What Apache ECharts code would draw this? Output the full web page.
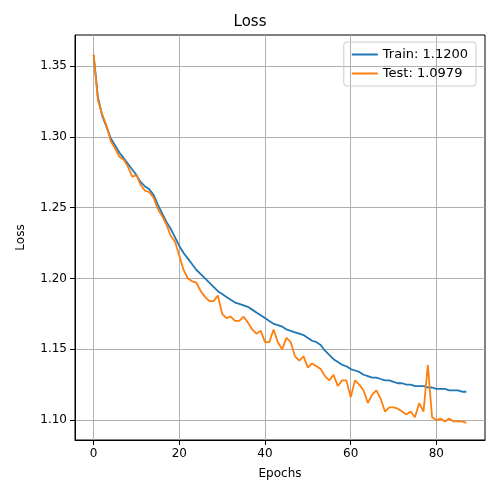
<!DOCTYPE html>
<html><head><meta charset="utf-8">
<script src="https://cdn.jsdelivr.net/npm/echarts@6/dist/echarts.min.js"></script>
<style>body{margin:0}#c{width:500px;height:500px}</style></head>
<body><div id="c"></div>
<script>
const train = [1.358,1.328,1.315,1.307,1.299,1.294,1.289,1.285,1.281,1.277,1.273,1.268,1.265,1.263,1.259,1.252,1.246,1.240,1.235,1.229,
  1.223,1.218,1.214,1.210,1.206,1.203,1.200,1.197,1.194,1.191,1.189,1.187,1.185,1.183,1.182,1.181,1.180,1.178,1.176,1.174,
  1.172,1.170,1.168,1.167,1.166,1.164,1.163,1.162,1.161,1.160,1.158,1.156,1.155,1.153,1.149,1.146,1.143,1.141,1.139,1.138,
  1.136,1.135,1.134,1.132,1.131,1.130,1.130,1.129,1.128,1.128,1.127,1.126,1.126,1.125,1.125,1.124,1.124,1.124,1.123,1.123,
  1.122,1.122,1.122,1.121,1.121,1.121,1.120,1.120];
const test = [1.358,1.326,1.316,1.308,1.297,1.292,1.286,1.284,1.279,1.272,1.273,1.266,1.262,1.261,1.257,1.249,1.244,1.238,1.230,1.226,
  1.216,1.206,1.200,1.198,1.197,1.191,1.187,1.184,1.184,1.188,1.175,1.172,1.173,1.170,1.170,1.173,1.169,1.164,1.161,1.163,
  1.155,1.155,1.164,1.155,1.150,1.158,1.155,1.145,1.142,1.145,1.137,1.140,1.138,1.136,1.131,1.128,1.132,1.124,1.128,1.128,
  1.116,1.128,1.125,1.121,1.112,1.118,1.121,1.115,1.106,1.109,1.109,1.108,1.106,1.104,1.106,1.102,1.112,1.106,1.139,1.102,
  1.100,1.101,1.099,1.101,1.099,1.099,1.099,1.098];
const xTicks = [0, 20, 40, 60, 80];
const yTicks = [1.10, 1.15, 1.20, 1.25, 1.30, 1.35];

const chart = echarts.init(document.getElementById('c'));
const font = 'DejaVu Sans';
const gridLine = { show: true, lineStyle: { color: '#b0b0b0', width: 1 } };
chart.setOption({
  animation: false,
  textStyle: { fontFamily: font },
  title: { text: 'Loss', left: 'center', top: 10, textStyle: { fontFamily: font, fontSize: 15, fontWeight: 'normal', color: '#000' } },
  legend: {
    right: 24, top: 42, orient: 'vertical', itemWidth: 26, itemHeight: 2, itemGap: 6,
    borderColor: '#ccc', borderWidth: 1, borderRadius: 3, padding: [6, 8],
    textStyle: { fontFamily: font, fontSize: 13, color: '#000' },
    data: [{ name: 'Train: 1.1200', icon: 'rect' }, { name: 'Test: 1.0979', icon: 'rect' }]
  },
  grid: { left: 75, right: 15, top: 35, bottom: 60, show: true, borderColor: '#000', borderWidth: 1 },
  xAxis: {
    type: 'value', min: -4.35, max: 91.35,
    name: 'Epochs', nameLocation: 'middle', nameGap: 28, nameTextStyle: { fontSize: 12, color: '#000' },
    axisLine: { onZero: false, lineStyle: { color: '#000' } },
    axisTick: { show: true, customValues: xTicks, lineStyle: { color: '#000' } },
    axisLabel: { customValues: xTicks, color: '#000', fontSize: 12 },
    splitLine: gridLine
  },
  yAxis: {
    type: 'value', min: 1.0859, max: 1.372,
    name: 'Loss', nameLocation: 'middle', nameGap: 48, nameTextStyle: { fontSize: 12, color: '#000' },
    axisLine: { show: true, onZero: false, lineStyle: { color: '#000' } },
    axisTick: { show: true, customValues: yTicks, lineStyle: { color: '#000' } },
    axisLabel: { customValues: yTicks, color: '#000', fontSize: 12, formatter: v => v.toFixed(2) },
    splitLine: gridLine
  },
  series: [
    { name: 'Train: 1.1200', type: 'line', data: train.map((v, i) => [i, v]), showSymbol: false, color: '#1f77b4', lineStyle: { width: 1.8 } },
    { name: 'Test: 1.0979', type: 'line', data: test.map((v, i) => [i, v]), showSymbol: false, color: '#ff7f0e', lineStyle: { width: 1.8 } }
  ]
});
</script></body></html>
